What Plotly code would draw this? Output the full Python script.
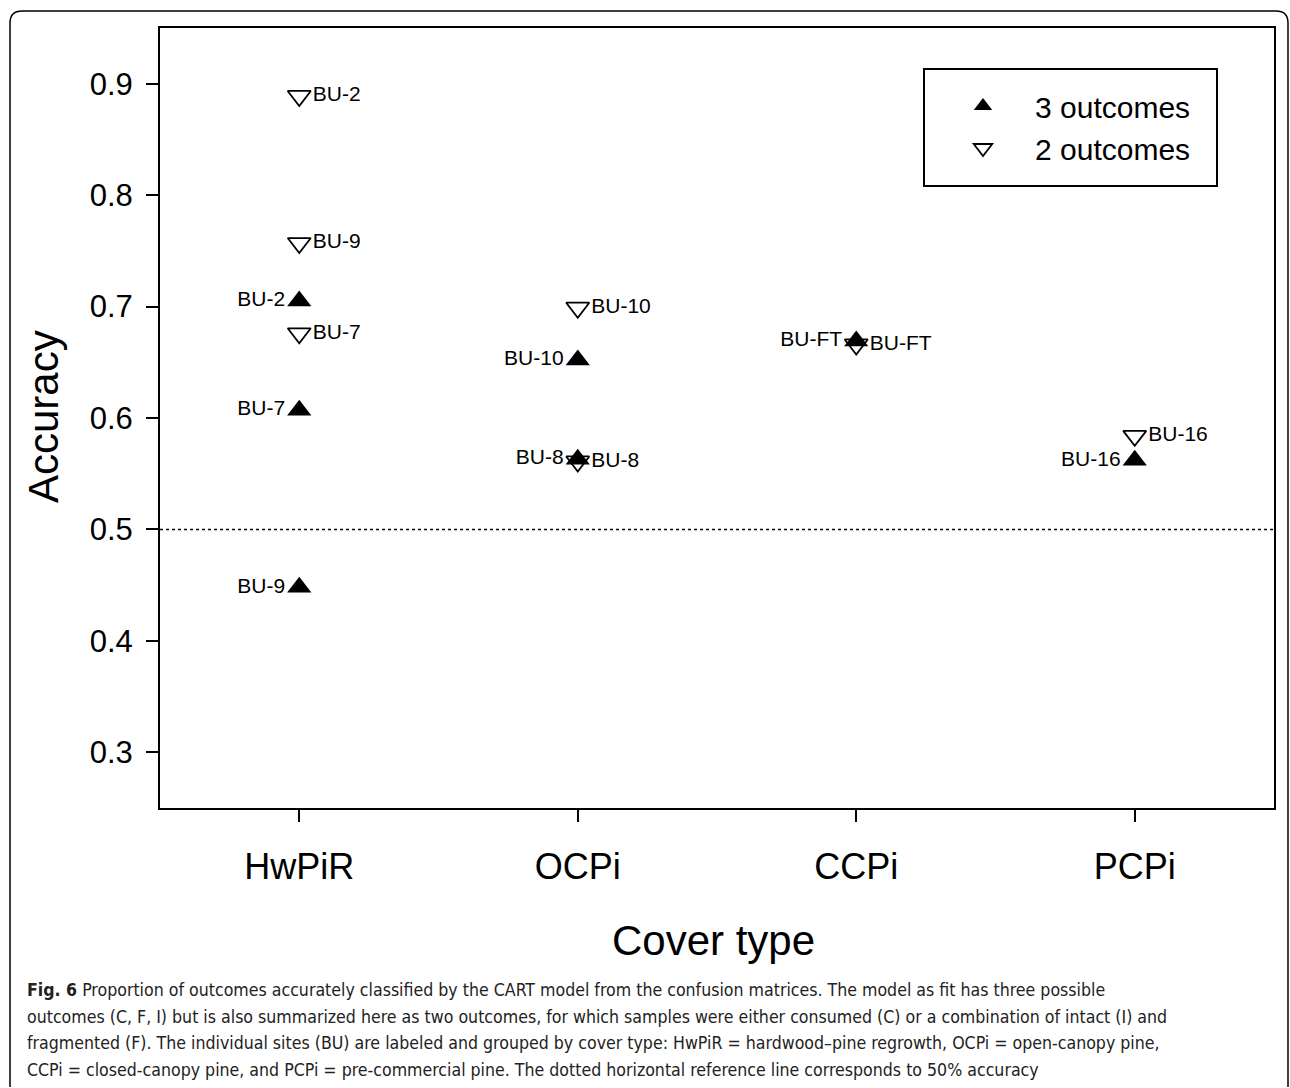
import plotly.graph_objects as go

# ---- data ----
cover_types = ["HwPiR", "OCPi", "CCPi", "PCPi"]

three_cover = ["HwPiR", "HwPiR", "HwPiR", "OCPi", "OCPi", "CCPi", "PCPi"]
three_acc = [0.705, 0.607, 0.448, 0.652, 0.563, 0.669, 0.562]
three_site = ["BU-2", "BU-7", "BU-9", "BU-10", "BU-8", "BU-FT", "BU-16"]

two_cover = ["HwPiR", "HwPiR", "HwPiR", "OCPi", "OCPi", "CCPi", "PCPi"]
two_acc = [0.889, 0.676, 0.757, 0.699, 0.561, 0.666, 0.584]
two_site = ["BU-2", "BU-7", "BU-9", "BU-10", "BU-8", "BU-FT", "BU-16"]

y_ticks = [0.3, 0.4, 0.5, 0.6, 0.7, 0.8, 0.9]
ref_level = 0.5

caption_lines = [
    "<b>Fig. 6</b> Proportion of outcomes accurately classified by the CART model from the confusion matrices. The model as fit has three possible",
    "outcomes (C, F, I) but is also summarized here as two outcomes, for which samples were either consumed (C) or a combination of intact (I) and",
    "fragmented (F). The individual sites (BU) are labeled and grouped by cover type: HwPiR = hardwood\u2013pine regrowth, OCPi = open-canopy pine,",
    "CCPi = closed-canopy pine, and PCPi = pre-commercial pine. The dotted horizontal reference line corresponds to 50% accuracy",
]

# ---- geometry ----
W, H = 1290, 1088
L, R, T, B = 160, 16, 28, 280
pw, ph = W - L - R, H - T - B

def px2x(px):
    return (px - L) / pw

def py2y(py):
    return (H - B - py) / ph

ARIAL = "Liberation Sans, Arial, sans-serif"

fig = go.Figure()
fig.add_trace(go.Scatter(
    x=three_cover, y=three_acc, text=three_site, mode="markers+text",
    textposition="middle left", name="3 outcomes",
    marker=dict(symbol="triangle-up", size=21, color="black", line=dict(width=0)),
    textfont=dict(family=ARIAL, size=21, color="black"),
))
fig.add_trace(go.Scatter(
    x=two_cover, y=two_acc, text=two_site, mode="markers+text",
    textposition="middle right", name="2 outcomes",
    marker=dict(symbol="triangle-down-open", size=20, color="black", line=dict(width=1.8, color="black")),
    textfont=dict(family=ARIAL, size=21, color="black"),
))

shapes = []
# 50% reference line
shapes.append(dict(type="line", xref="paper", yref="y", x0=0, x1=1, y0=ref_level, y1=ref_level,
                   line=dict(color="black", width=1.5, dash="dot")))
# legend box
shapes.append(dict(type="rect", xref="paper", yref="paper",
                   x0=px2x(924), x1=px2x(1217), y0=py2y(186), y1=py2y(69),
                   line=dict(color="black", width=2), fillcolor="rgba(0,0,0,0)", layer="above"))
# outer rounded frame
r = 12
x0, y0, x1, y1 = 10, 11, 1288, 1087
path = (f"M {px2x(x0)},{py2y(y1)} L {px2x(x0)},{py2y(y0 + r)} "
        f"Q {px2x(x0)},{py2y(y0)} {px2x(x0 + r)},{py2y(y0)} "
        f"L {px2x(x1 - r)},{py2y(y0)} Q {px2x(x1)},{py2y(y0)} {px2x(x1)},{py2y(y0 + r)} "
        f"L {px2x(x1)},{py2y(y1)}")
shapes.append(dict(type="path", xref="paper", yref="paper", path=path,
                   line=dict(color="black", width=1.5)))

annotations = [
    dict(text="Accuracy", textangle=-90, xref="paper", yref="paper",
         x=px2x(43), y=py2y(416), showarrow=False, xanchor="center", yanchor="middle",
         font=dict(family=ARIAL, size=42, color="black")),
    dict(text="Cover type", xref="paper", yref="paper",
         x=px2x(713), y=py2y(940), showarrow=False, xanchor="center", yanchor="middle",
         font=dict(family=ARIAL, size=42, color="black")),
]
line_y = [990, 1017, 1043, 1070]
for txt, ly in zip(caption_lines, line_y):
    annotations.append(dict(text=txt, xref="paper", yref="paper", x=px2x(25), y=py2y(ly),
                            showarrow=False, xanchor="left", yanchor="middle", align="left",
                            font=dict(family="DejaVu Sans Condensed, Open Sans", size=17.6, color="#222")))

fig.update_layout(
    width=W, height=H, margin=dict(l=L, r=R, t=T, b=B, pad=0),
    paper_bgcolor="white", plot_bgcolor="white",
    showlegend=True,
    legend=dict(x=px2x(931), y=py2y(80), xanchor="left", yanchor="top",
                font=dict(family=ARIAL, size=30, color="black"),
                bgcolor="rgba(0,0,0,0)", borderwidth=0, itemwidth=94,
                tracegroupgap=0),
    shapes=shapes, annotations=annotations,
    xaxis=dict(type="category", categoryarray=cover_types, categoryorder="array",
               range=[-0.5, 3.5], showline=True, linecolor="black", linewidth=2, mirror=True,
               ticks="outside", ticklen=12, tickwidth=2, tickcolor="black",
               showgrid=False, zeroline=False, ticklabelstandoff=14,
               tickfont=dict(family=ARIAL, size=36, color="black")),
    yaxis=dict(range=[0.25, 0.95], tickvals=y_ticks, ticktext=[f"{v:.1f}" for v in y_ticks],
               showline=True, linecolor="black", linewidth=2, mirror=True,
               ticks="outside", ticklen=12, tickwidth=2, tickcolor="black",
               showgrid=False, zeroline=False, ticklabelstandoff=7,
               tickfont=dict(family=ARIAL, size=31, color="black")),
)

fig.write_html("out.html")
